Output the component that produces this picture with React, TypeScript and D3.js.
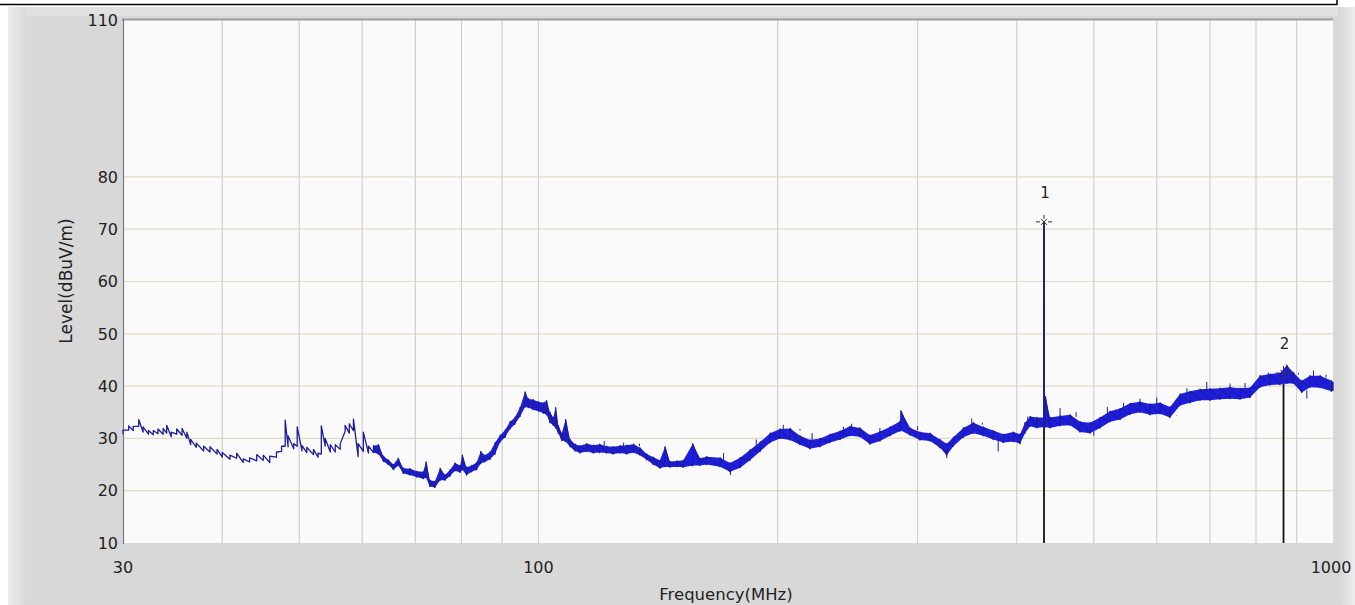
import React from 'react'
import * as d3 from 'd3'

// trace envelope, frequency in MHz, level in dBuV/m
const traceFreq = [
  30.0, 30.5, 30.9, 31.4, 31.8, 32.3, 32.75, 33.2, 33.7, 34.05, 34.5, 35.05, 35.6, 36.1, 36.5, 37.1, 37.9, 38.6, 39.4, 40.0,
  40.9, 41.7, 42.5, 43.3, 44.2, 45.05, 45.9, 46.8, 47.5, 48.0, 48.4, 49.2, 49.7, 50.4, 51.1, 52.1, 52.8, 53.3, 53.9, 54.7,
  55.5, 56.3, 57.1, 57.8, 58.5, 59.3, 60.2, 61.1, 62.0, 62.9, 63.8, 64.7, 65.7, 66.6, 67.6, 68.9, 70.3, 71.6, 72.2, 73.0,
  74.1, 75.2, 76.3, 77.4, 78.5, 79.7, 80.2, 81.2, 82.4, 83.6, 84.6, 85.6, 86.9, 88.2, 89.5, 90.8, 92.1, 93.4, 94.8, 96.2,
  97.1, 98.5, 100.0, 101.4, 102.4, 103.4, 104.4, 105.1, 105.9, 107.0, 108.2, 109.6, 111.2, 112.8, 115.0, 117.3, 119.4, 121.8, 124.2, 126.7,
  129.2, 131.7, 134.2, 136.9, 139.5, 142.2, 144.3, 146.4, 149.3, 152.2, 156.4, 159.7, 162.8, 169.3, 174.2, 179.4, 184.6, 190.1, 195.7, 201.4,
  207.4, 213.4, 219.7, 226.2, 232.8, 239.7, 246.7, 253.9, 261.4, 269.1, 277.0, 285.2, 285.9, 293.6, 302.2, 311.1, 320.2, 326.5, 332.8, 342.6,
  352.6, 363.0, 373.6, 384.7, 396.0, 403.8, 409.6, 415.7, 423.8, 432.4, 432.8, 433.2, 434.6, 440.4, 453.4, 466.8, 480.5, 494.6, 509.2, 524.2,
  539.5, 555.4, 571.6, 588.5, 605.8, 623.6, 641.9, 660.9, 680.3, 700.3, 721.0, 742.0, 763.8, 786.2, 809.3, 833.2, 857.7, 874.6, 891.5, 913.4,
  935.7, 963.3, 996.0, 1000,
]
const traceMin = [
  30.8, 31.6, 31.5, 32.3, 31.2, 30.8, 30.7, 30.9, 30.8, 31.0, 30.3, 30.8, 30.6, 30.0, 28.8, 28.3, 27.6, 27.4, 27.0, 26.4,
  26.0, 26.2, 25.4, 25.5, 25.7, 25.8, 25.4, 26.4, 27.5, 28.5, 28.4, 28.0, 28.5, 27.6, 27.3, 26.9, 26.4, 27.0, 28.5, 27.4,
  27.4, 27.9, 31.3, 31.0, 31.5, 26.5, 27.5, 27.2, 27.3, 27.0, 25.6, 25.0, 24.0, 24.8, 23.3, 23.0, 22.6, 22.3, 22.5, 20.8,
  20.6, 22.0, 22.0, 22.8, 23.8, 23.5, 24.0, 23.0, 23.6, 24.0, 25.2, 25.5, 26.0, 27.0, 29.3, 30.2, 31.8, 32.7, 34.2, 36.0,
  35.9, 35.5, 35.2, 34.8, 34.5, 33.0, 32.5, 32.0, 31.0, 29.6, 29.4, 28.4, 27.6, 27.2, 27.5, 27.2, 27.3, 27.2, 27.0, 27.2,
  27.0, 27.3, 26.8, 25.9, 25.0, 24.3, 24.6, 24.5, 24.6, 24.5, 24.8, 24.8, 25.0, 24.6, 23.6, 24.4, 25.8, 27.5, 29.2, 30.0,
  29.7, 28.8, 28.0, 28.4, 29.2, 29.8, 30.5, 30.3, 28.9, 29.5, 30.5, 31.4, 31.5, 30.6, 29.7, 29.5, 28.2, 26.8, 28.5, 30.2,
  31.0, 30.5, 29.8, 29.2, 29.4, 29.0, 31.0, 32.3, 32.0, 32.2, 32.5, 32.3, 32.2, 32.0, 32.4, 32.5, 31.2, 31.0, 32.0, 33.2,
  33.6, 34.6, 35.0, 34.5, 34.7, 34.0, 36.3, 36.8, 37.3, 37.3, 37.5, 37.6, 37.5, 37.8, 39.8, 40.2, 40.3, 40.5, 40.5, 38.8,
  39.8, 39.7, 39.0, 39.2,
]
const traceMax = [
  31.6, 32.4, 32.3, 33.6, 32.2, 31.5, 31.5, 31.8, 31.9, 32.5, 31.2, 31.8, 31.9, 31.2, 29.8, 29.1, 28.5, 28.4, 27.9, 27.3,
  26.8, 27.2, 26.1, 26.3, 26.9, 26.8, 26.6, 27.4, 28.5, 33.5, 30.5, 29.0, 32.2, 28.6, 28.3, 27.9, 27.2, 32.4, 30.0, 28.8,
  28.8, 29.0, 32.5, 32.8, 33.7, 29.0, 31.2, 28.5, 28.6, 28.8, 26.6, 25.9, 25.0, 26.2, 24.3, 24.2, 23.7, 23.6, 25.5, 22.0,
  21.8, 24.3, 23.0, 24.0, 25.3, 24.8, 26.8, 24.5, 24.8, 25.4, 27.5, 26.8, 27.4, 29.2, 30.6, 31.6, 33.2, 34.0, 35.9, 38.9,
  37.6, 37.4, 37.0, 36.8, 37.2, 35.0, 34.0, 35.9, 32.5, 31.0, 33.6, 29.8, 28.9, 28.6, 29.0, 28.7, 28.9, 28.5, 28.4, 28.6,
  28.7, 28.9, 28.2, 27.0, 26.4, 25.8, 28.4, 25.6, 25.7, 25.8, 29.0, 26.2, 26.5, 26.3, 25.3, 26.3, 27.8, 29.3, 31.0, 31.8,
  31.9, 30.5, 29.7, 30.0, 30.8, 31.4, 32.3, 32.0, 30.6, 31.3, 32.2, 33.3, 35.3, 32.0, 31.2, 31.0, 29.8, 29.0, 30.2, 32.0,
  33.0, 32.2, 31.5, 30.8, 31.2, 30.8, 33.0, 34.2, 34.0, 34.0, 71.4, 34.1, 38.0, 34.0, 34.3, 34.5, 33.2, 33.0, 34.0, 35.2,
  35.7, 36.7, 37.0, 36.6, 36.8, 36.0, 38.5, 39.0, 39.4, 39.5, 39.6, 39.8, 39.6, 39.7, 42.0, 42.3, 42.5, 44.0, 42.6, 41.0,
  42.0, 42.0, 41.0, 40.8,
]

// narrow spikes sticking out above and below the dense part of the trace
const spikeFreq = [
  121, 128, 134, 171, 188, 203.3, 213.4, 221, 242, 247.9, 269, 300, 351, 362, 413, 453.4, 475, 520, 545, 571.6,
  600, 655, 693.6, 742, 775, 829, 905, 945, 980,
]
const spikeLevel = [
  29.5, 29.2, 29.0, 27.2, 29.8, 32.6, 31.8, 31.0, 32.2, 32.8, 32.0, 32.3, 33.8, 33.0, 34.2, 35.8, 35.0, 36.0, 36.8, 37.6,
  37.8, 39.6, 40.8, 40.5, 40.6, 42.6, 42.5, 43.0, 42.2,
]
const dipFreq = [174.5, 326.5, 379, 500, 635.8, 927]
const dipLevel = [23.0, 26.2, 27.5, 30.5, 34.3, 37.6]

const markerNames = ['1', '2']
const markerFreq = [432.8, 866.4]
const markerLevel = [71.4, 42.5]

const yTicks = [10, 20, 30, 40, 50, 60, 70, 80, 110]
const xTickLabels = [30, 100, 1000]
const xGrid = [40, 50, 60, 70, 80, 90, 100, 200, 300, 400, 500, 600, 700, 800, 900]

const W = 1355
const H = 605
const plot = { left: 123, right: 1333, top: 20, bottom: 543 }
const font = '"DejaVu Sans", sans-serif'
const denseFrom = 62 // below this the trace is drawn as a thin line only
const traceDark = '#1e1e9c'

export default function App() {
  const x = d3.scaleLog().domain([30, 1000]).range([plot.left, plot.right])
  const y = d3.scaleLinear().domain([10, 110]).range([plot.bottom, plot.top])

  const idx = d3.range(traceFreq.length)
  const denseIdx = idx.filter(i => traceFreq[i] >= denseFrom)
  const band = d3.area<number>()
    .x(i => x(traceFreq[i]))
    .y0(i => y(traceMin[i]))
    .y1(i => y(traceMax[i]))

  // each sample: jump up from its min to its max, then fall to the next min
  const saw = idx.flatMap(i => [[traceFreq[i], traceMin[i]], [traceFreq[i], traceMax[i]]])
  const line = d3.line<number[]>().x(d => x(d[0])).y(d => y(d[1]))

  const envAt = (f: number, arr: number[]) => {
    const j = Math.max(1, d3.bisectLeft(traceFreq, f))
    return arr[j - 1]
  }

  const star = 'M-8,0H-4M4,0H8M-3,-3L3,3M-3,3L3,-3M0,-7V-3M0,3V6'

  return (
    <div style={{ position: 'absolute', left: 0, top: 0 }}>
      <svg width={W} height={H} style={{ display: 'block' }}>
        <defs>
          <linearGradient id="leftEdge" x1="0" x2="1" y1="0" y2="0">
            <stop offset="0" stopColor="#ededed" />
            <stop offset="1" stopColor="#d9d9d9" />
          </linearGradient>
          <linearGradient id="rightEdge" x1="0" x2="1" y1="0" y2="0">
            <stop offset="0" stopColor="#d6d6d6" />
            <stop offset="1" stopColor="#eeeeee" />
          </linearGradient>
        </defs>

        <rect width={W} height={H} fill="#ffffff" />
        <rect x={8} y={7} width={1332} height={H - 7} fill="#d8d8d8" />
        <rect x={8} y={7} width={18} height={H - 7} fill="url(#leftEdge)" />
        <rect x={26} y={7} width={1312} height={9} fill="#e1e1e1" />
        <rect x={1338} y={7} width={17} height={H - 7} fill="url(#rightEdge)" />
        <line x1={0} x2={1337} y1={4.5} y2={4.5} stroke="#000" strokeWidth={1.5} />
        <line x1={1337} x2={1337} y1={0} y2={5} stroke="#000" strokeWidth={1.5} />

        <rect x={plot.left} y={plot.top} width={plot.right - plot.left} height={plot.bottom - plot.top} fill="#fafafa" />

        {yTicks.filter(t => t > 10 && t < 110).map(t => (
          <line key={'gy' + t} x1={plot.left} x2={plot.right} y1={y(t)} y2={y(t)} stroke="#e2dcc6" strokeWidth={1.2} />
        ))}
        {xGrid.map(f => (
          <line key={'gx' + f} x1={x(f)} x2={x(f)} y1={plot.top} y2={plot.bottom + 3} stroke="#d0d0d0" strokeWidth={1.2} />
        ))}

        <line x1={plot.left - 1} x2={plot.right} y1={plot.top - 0.5} y2={plot.top - 0.5} stroke="#9c9c9c" strokeWidth={2} />
        <line x1={plot.left + 0.5} x2={plot.left + 0.5} y1={plot.top - 1} y2={plot.bottom + 1} stroke="#7a7a7a" strokeWidth={1.2} />

        {markerFreq.map((f, i) => (
          <line key={'ml' + i} x1={x(f)} x2={x(f)} y1={y(markerLevel[i])} y2={plot.bottom} stroke="#111" strokeWidth={1.8} />
        ))}

        <path d={band(denseIdx) ?? ''} fill="#1d1de6" stroke="none" />
        <path d={line(saw) ?? ''} fill="none" stroke={traceDark} strokeWidth={1.3} strokeLinejoin="round" />
        {spikeFreq.map((f, i) => (
          <line key={'sp' + i} x1={x(f)} x2={x(f)} y1={y(envAt(f, traceMax)) + 2} y2={y(spikeLevel[i])} stroke={traceDark} strokeWidth={1} />
        ))}
        {dipFreq.map((f, i) => (
          <line key={'dp' + i} x1={x(f)} x2={x(f)} y1={y(envAt(f, traceMin)) - 2} y2={y(dipLevel[i])} stroke={traceDark} strokeWidth={1} />
        ))}

        {markerFreq.map((f, i) => (
          <g key={'mk' + i}>
            <path d={star} transform={`translate(${x(f)},${y(markerLevel[i])})`} fill="none" stroke="#333" strokeWidth={1} />
            <text x={x(f) + 1} y={y(markerLevel[i]) - 24} textAnchor="middle" fontFamily={font} fontSize={15} fill="#222">
              {markerNames[i]}
            </text>
          </g>
        ))}

        {yTicks.map(t => (
          <text key={'ty' + t} x={118} y={y(t)} dy="0.36em" textAnchor="end" fontFamily={font} fontSize={16} fill="#222">
            {t}
          </text>
        ))}
        {xTickLabels.map(t => (
          <text key={'tx' + t} x={t === 1000 ? x(t) - 2 : x(t)} y={567} dy="0.36em" textAnchor="middle" fontFamily={font} fontSize={16} fill="#222">
            {t}
          </text>
        ))}

        <text x={726} y={600} textAnchor="middle" fontFamily={font} fontSize={16.5} fill="#222">
          Frequency(MHz)
        </text>
        <text transform="translate(66,281) rotate(-90)" dy="0.36em" textAnchor="middle" fontFamily={font} fontSize={17} fill="#222">
          Level(dBuV/m)
        </text>
      </svg>
    </div>
  )
}
